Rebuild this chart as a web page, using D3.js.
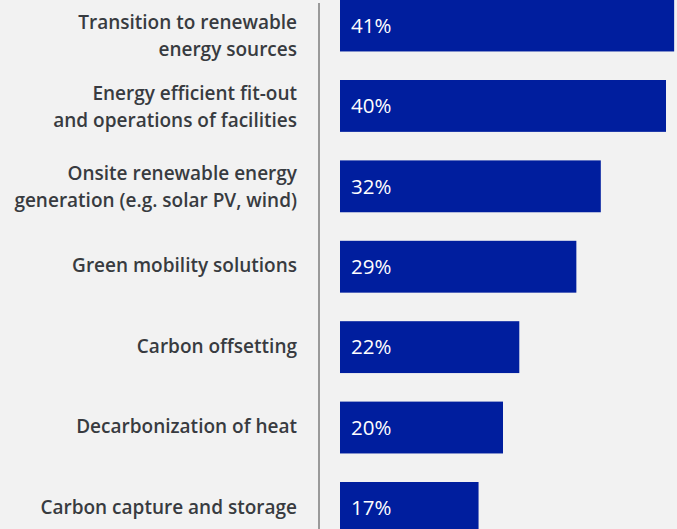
<!DOCTYPE html>
<html>
<head>
<meta charset="utf-8">
<script src="https://cdn.jsdelivr.net/npm/d3@7"></script>
<style>
  html, body { margin: 0; padding: 0; background: #f2f2f2; }
  svg { display: block; }
</style>
</head>
<body>
<svg id="chart" width="677" height="529"></svg>
<script>
// Share of respondents naming each decarbonization measure
const categories = [
  ["Transition to renewable", "energy sources"],
  ["Energy efficient fit-out", "and operations of facilities"],
  ["Onsite renewable energy", "generation (e.g. solar PV, wind)"],
  ["Green mobility solutions"],
  ["Carbon offsetting"],
  ["Decarbonization of heat"],
  ["Carbon capture and storage"]
];
const values = [41, 40, 32, 29, 22, 20, 17];

const W = 677, H = 529;
const svg = d3.select("#chart");

const axisX = 319;
const step = 80.4, padIn = 0.355, y0 = -0.4;
const x = d3.scaleLinear().domain([0, 40]).range([340, 666]);
const y = d3.scaleBand()
  .domain(d3.range(values.length))
  .range([y0, y0 + step * (values.length - padIn)])
  .paddingInner(padIn)
  .paddingOuter(0);

// bars
svg.append("g").selectAll("rect")
  .data(values)
  .join("rect")
  .attr("x", x(0))
  .attr("y", (d, i) => y(i))
  .attr("width", d => x(d) - x(0))
  .attr("height", y.bandwidth())
  .attr("fill", "#001e9e");

// value labels inside bars
svg.append("g").selectAll("text")
  .data(values)
  .join("text")
  .attr("x", x(0) + 11)
  .attr("y", (d, i) => y(i) + y.bandwidth() / 2)
  .attr("dy", "0.35em")
  .attr("fill", "#ffffff")
  .style("font-family", "'Open Sans', sans-serif")
  .style("font-size", "20.5px")
  .text(d => d + "%");

// category labels, right aligned against the axis
const lineH = 27;
const lab = svg.append("g").selectAll("text")
  .data(categories)
  .join("text")
  .attr("text-anchor", "end")
  .attr("fill", "#383b40")
  .style("font-family", "'Open Sans', sans-serif")
  .style("font-weight", 600)
  .style("font-size", "19px");

lab.each(function(lines, i) {
  const cy = y(i) + y.bandwidth() / 2;
  const shift = lines.length > 1 ? 1 : -1;
  const first = Math.max(cy - (lines.length - 1) * lineH / 2 + shift, 22);
  d3.select(this).selectAll("tspan")
    .data(lines)
    .join("tspan")
    .attr("x", 297)
    .attr("y", (d, k) => first + k * lineH)
    .attr("dy", "0.35em")
    .text(d => d);
});

// vertical axis line
svg.append("line")
  .attr("x1", axisX).attr("x2", axisX)
  .attr("y1", 3).attr("y2", H)
  .attr("stroke", "#9a9a9a")
  .attr("stroke-width", 2);
</script>
</body>
</html>
